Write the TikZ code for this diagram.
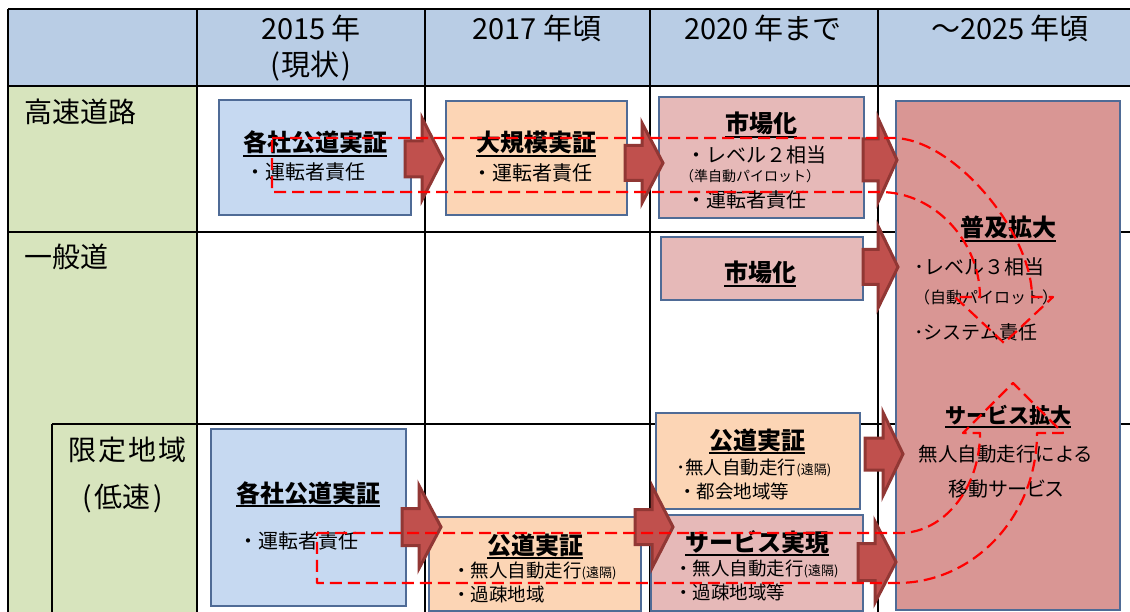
\documentclass[tikz,border=0pt]{standalone}
\usepackage{fontspec}
\setmainfont{Noto Sans CJK JP}
\newfontfamily\jpp[RawFeature=+palt]{Noto Sans CJK JP}
\newcommand\myfs[1]{\fontsize{#1pt}{#1pt}\selectfont}
\newcommand\myul[1]{\setbox0=\hbox{#1}\rlap{\rule[-5pt]{\wd0}{2pt}}\box0}
\definecolor{hdr}{RGB}{185,205,229}
\definecolor{grn}{RGB}{215,228,189}
\definecolor{cblue}{RGB}{198,217,241}
\definecolor{cpeach}{RGB}{252,213,181}
\definecolor{cpink}{RGB}{230,185,184}
\definecolor{cbig}{RGB}{217,150,148}
\definecolor{bord}{RGB}{79,107,150}
\definecolor{arrf}{RGB}{192,80,77}
\definecolor{arrd}{RGB}{145,55,52}
\newcommand\blkarrow[6]{\draw[blk] (#1,#4-#5) -- (#2,#4-#5) -- (#2,#4-#6) -- (#3,#4) -- (#2,#4+#6) -- (#2,#4+#5) -- (#1,#4+#5) -- cycle;}
\begin{document}
\begin{tikzpicture}[x=1pt,y=-1pt,
  tbl/.style={line width=2.5pt,draw=black},
  box/.style={draw=bord,line width=1.5pt,inner sep=0pt,rectangle},
  txt/.style={inner sep=0pt,anchor=base},
  ttl/.style={txt,font=\myfs{24}\bfseries},
  itm/.style={txt,font=\myfs{20}},
  sml/.style={txt,font=\myfs{18.5}},
  blk/.style={fill=arrf,draw=arrd,line width=3pt,line join=miter},
  dsh/.style={draw=red,line width=2.2pt,dash pattern=on 12pt off 6pt,line join=round}]
\useasboundingbox (0,0) rectangle (1130,612);
\fill[white] (0,0) rectangle (1130,612);
% table fills
\fill[hdr] (8,9) rectangle (1130,86);
\fill[grn] (8,86) rectangle (197,612);
% table lines
\draw[tbl] (8,9) -- (1130,9);
\draw[tbl] (8,86) -- (1130,86);
\draw[tbl] (8,232) -- (1130,232);
\draw[tbl] (52,424) -- (1130,424);
\draw[tbl] (8,9) -- (8,612);
\draw[tbl] (197,9) -- (197,612);
\draw[tbl] (425,9) -- (425,612);
\draw[tbl] (650,9) -- (650,612);
\draw[tbl] (878,9) -- (878,612);
\draw[tbl] (52,424) -- (52,612);
% header texts
\node[txt,font=\myfs{29}] (h1) at (311,40) {2015 年};
\node[txt,font=\myfs{29}] (h1b) at (311,75.5) {(\hspace{2pt}現状\hspace{2pt})};
\node[txt,font=\myfs{29}] (h2) at (537,40) {2017 年頃};
\node[txt,font=\myfs{29}] (h3) at (763,40) {2020 年まで};
\node[txt,font=\myfs{29}] (h4) at (1010,40) {～2025 年頃};
% row labels
\node[txt,font=\myfs{28},anchor=base west] (r1) at (24,122.5) {高速道路};
\node[txt,font=\myfs{28},anchor=base west] (r2) at (24,267.5) {一般道};
\node[txt,font=\myfs{28},anchor=base west] (r3) at (68,460) {限\hspace{2pt}定\hspace{2pt}地\hspace{2pt}域};
\node[txt,font=\myfs{28}] (r4) at (123,507) {(\hspace{3pt}低速\hspace{3pt})};
% boxes
\node[box,fill=cblue,minimum width=192pt,minimum height=115pt] (b1) at (315,157.5) {};
\node[box,fill=cpeach,minimum width=181pt,minimum height=114pt] (b2) at (536.5,158) {};
\node[box,fill=cpink,minimum width=205pt,minimum height=121pt] (b3) at (761.5,157.5) {};
\node[box,fill=cpink,minimum width=202pt,minimum height=63pt] (b4) at (762,268.5) {};
\node[box,fill=cbig,minimum width=224pt,minimum height=509pt] (b5) at (1008,355.5) {};
\node[box,fill=cblue,minimum width=195pt,minimum height=177pt] (b6) at (308.5,517.5) {};
\node[box,fill=cpeach,minimum width=212pt,minimum height=94pt] (b7) at (535,564) {};
\node[box,fill=cpeach,minimum width=204pt,minimum height=96pt] (b8) at (758,461) {};
\node[box,fill=cpink,minimum width=212pt,minimum height=96pt] (b9) at (757,563) {};
% box texts
\node[ttl] (t1a) at (315,152) {\myul{各社公道実証}};
\node[itm] (t1b) at (305,180) {・運転者責任};
\node[ttl] (t2a) at (536,152) {\myul{大規模実証}};
\node[itm] (t2b) at (532,181) {・運転者責任};
\node[ttl] (t3a) at (761,133) {\myul{市場化}};
\node[itm] (t3b) at (756,163) {・レベル２相当};
\node[txt,font=\myfs{14}] (t3c) at (750,182) {（準自動パイロット）};
\node[itm] (t3d) at (746,208) {・運転者責任};
\node[ttl] (t4a) at (760,282) {\myul{市場化}};
\node[ttl] (t5a) at (1008,237) {\myul{普及拡大}};
\node[itm,anchor=base west] (t5b) at (914,275) {･レベル３相当};
\node[txt,font=\myfs{16},anchor=base west] (t5c) at (914,304) {（自動パイロット）};
\node[txt,font=\myfs{19},anchor=base west] (t5d) at (914,340) {･システム責任};
\node[txt,font=\myfs{21}\bfseries] (t5e) at (1008,423) {\myul{サービス拡大}};
\node[txt,font=\myfs{19.5}] (t5f) at (1006,461) {無人自動走行による};
\node[txt,font=\jpp\myfs{20}] (t5g) at (1006,496) {移動サービス};
\node[ttl] (t6a) at (308,502) {\myul{各社公道実証}};
\node[itm] (t6b) at (298,548) {・運転者責任};
\node[ttl] (t7a) at (535,554) {\myul{公道実証}};
\node[sml,anchor=base west] (t7b) at (452,577) {・無人自動走行{\myfs{13}(遠隔)}};
\node[sml,anchor=base west] (t7c) at (452,601) {・過疎地域};
\node[ttl] (t8a) at (757,449) {\myul{公道実証}};
\node[sml,anchor=base west] (t8b) at (676,474) {･無人自動走行{\myfs{13}(遠隔)}};
\node[sml,anchor=base west] (t8c) at (678,498) {・都会地域等};
\node[ttl] (t9a) at (757,551) {\myul{サービス実現}};
\node[sml,anchor=base west] (t9b) at (674,575) {・無人自動走行{\myfs{13}(遠隔)}};
\node[sml,anchor=base west] (t9c) at (674,599) {・過疎地域等};
% block arrows
\blkarrow{405}{422}{443}{159}{18}{41}
\blkarrow{625}{642}{663}{163}{17.5}{40}
\blkarrow{863}{878}{897}{160}{21}{42}
\blkarrow{863}{878}{898}{267}{17.5}{41}
\blkarrow{865}{883}{903}{454}{16}{41.5}
\blkarrow{858}{875}{896}{562}{18.5}{40.5}
\blkarrow{402}{419}{441}{527}{18.5}{41.5}
\blkarrow{635}{652}{673}{527}{17.5}{41}
% dashed curved arrows
\draw[dsh] (272,138) -- (893,138) .. controls (953,138) and (1032,232) .. (1032,297)
  -- (1053,297) -- (1004,343) -- (955,297) -- (980,297)
  .. controls (980,242) and (935,192) .. (880,192) -- (272,192) -- cycle;
\draw[dsh] (317,533) -- (900,533) .. controls (944,533) and (980,488) .. (980,433)
  -- (963,433) -- (1013,383) -- (1063,433) -- (1037,433)
  .. controls (1037,516) and (974,583) .. (897,583) -- (317,583) -- cycle;
\end{tikzpicture}
\end{document}
